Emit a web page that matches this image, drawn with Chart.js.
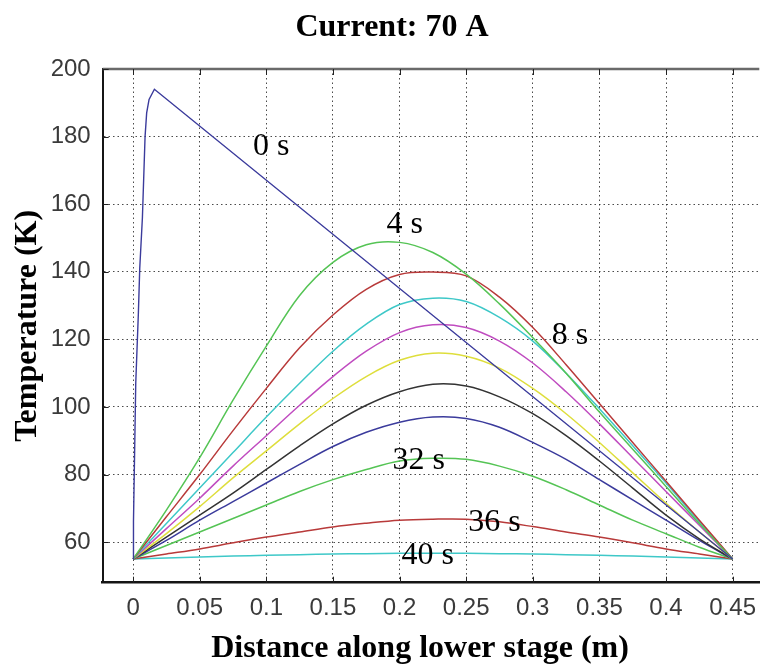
<!DOCTYPE html>
<html>
<head>
<meta charset="utf-8">
<script src="https://cdn.jsdelivr.net/npm/chart.js@4.4.1/dist/chart.umd.min.js"></script>
<style>
  html, body { margin: 0; padding: 0; background: #fff; }
  #wrap { width: 767px; height: 668px; }
</style>
</head>
<body>
<div id="wrap"><canvas id="tempChart" width="767" height="668"></canvas></div>
<script>
// distance along the lower stage (m), shared by the 4 s .. 40 s profiles
const distance = [0, 0.025, 0.05, 0.075, 0.1, 0.125, 0.15, 0.175, 0.2, 0.225, 0.25, 0.275, 0.3, 0.325, 0.35, 0.375, 0.4, 0.425, 0.45];

const t4s  = [55, 69.5, 85, 102, 118, 133, 142.8, 148, 148.7, 145.7, 139.3, 130.5, 120.5, 110, 98.5, 87.5, 76.5, 65.5, 55];
const t8s  = [55, 67.5, 80, 93, 105.5, 117.5, 127.2, 134.8, 139.2, 139.9, 138.8, 132.5, 123.5, 112.5, 101, 89.5, 78, 66.5, 55];
const t12s = [55, 65.5, 76, 86.5, 97, 107, 116.5, 124.5, 130.3, 132.2, 131.2, 126.5, 119.5, 110, 99.5, 88.5, 77.5, 66, 55];
const t16s = [55, 64, 73, 82.5, 91.5, 100.5, 109, 116.5, 122, 124.3, 123.5, 119.5, 113, 104.5, 95, 85, 75, 65, 55];
const t20s = [55, 62.5, 70.5, 79, 87, 95, 102.5, 109, 113.8, 115.9, 115, 111.5, 105.5, 98, 89.5, 80.5, 71.5, 63, 55];
const t24s = [55, 61.5, 68, 74.5, 81.5, 88.5, 95, 100.5, 104.5, 106.7, 106.2, 103, 98, 91.5, 84, 76, 68, 61, 55];
const t28s = [55, 60.5, 66.5, 72, 77.5, 83, 88.3, 92.5, 95.5, 97, 96.6, 94, 89.5, 84.5, 78.5, 72.5, 66.5, 60.5, 55];
const t32s = [55, 59, 63, 67, 71, 75, 78.5, 81.5, 84, 84.8, 84.5, 82.5, 79.5, 75.5, 71, 66.5, 62.5, 58.5, 55];
const t36s = [55, 56.5, 58, 59.8, 61.5, 63, 64.5, 65.6, 66.5, 66.8, 66.8, 66, 64.6, 63, 61.5, 59.8, 58, 56.5, 55];
const t40s = [55, 55.3, 55.6, 55.9, 56.1, 56.3, 56.5, 56.6, 56.7, 56.7, 56.7, 56.6, 56.5, 56.3, 56.1, 55.9, 55.6, 55.3, 55];

// initial profile (0 s) has its own sampling: steep rise, then straight fall
const zeroDistance = [0, 0.0003, 0.0013, 0.002, 0.004, 0.005, 0.007, 0.009, 0.0102, 0.012, 0.016, 0.45];
const t0s = [55, 66, 90, 107, 128, 141, 156, 180, 187, 191, 194, 55];

const xTicks = [0, 0.05, 0.1, 0.15, 0.2, 0.25, 0.3, 0.35, 0.4, 0.45];
const yTicks = [60, 80, 100, 120, 140, 160, 180, 200];

// curve labels, placed in data coordinates
const timeLabels = ['0 s', '4 s', '8 s', '32 s', '36 s', '40 s'];
const timeLabelX = [0.1036, 0.2038, 0.328, 0.2144, 0.2713, 0.2212];
const timeLabelY = [177.1, 154.1, 121.2, 84.2, 65.8, 56.1];

// old matlab colour order b g r c m y k, as it looks after jpeg blur
const lineColors = ['#3b3b9c', '#55c455', '#b83a3a', '#3ec8c8', '#c04cc0', '#dede3c', '#333333', '#3b3b9c', '#55c455', '#b83a3a', '#3ec8c8'];

const toPoints = (xs, ys) => xs.map((x, i) => ({ x: x, y: ys[i] }));

const profiles = [t4s, t8s, t12s, t16s, t20s, t24s, t28s, t32s, t36s, t40s];
const names = ['4 s', '8 s', '12 s', '16 s', '20 s', '24 s', '28 s', '32 s', '36 s', '40 s'];

const datasets = [{
    label: '0 s',
    data: toPoints(zeroDistance, t0s),
    borderColor: lineColors[0],
    borderWidth: 1.4,
    pointRadius: 0,
    tension: 0
}];
profiles.forEach((p, i) => {
    datasets.push({
        label: names[i],
        data: toPoints(distance, p),
        borderColor: lineColors[i + 1],
        borderWidth: 1.5,
        pointRadius: 0,
        tension: 0.35
    });
});

const axesFrame = {
    id: 'axesFrame',
    afterDraw(chart) {
        const { ctx, chartArea: a, scales: { x, y } } = chart;
        ctx.save();

        // top edge of the box
        ctx.strokeStyle = '#6a6a6a';
        ctx.lineWidth = 2.5;
        ctx.beginPath();
        ctx.moveTo(a.left, a.top);
        ctx.lineTo(a.right, a.top);
        ctx.stroke();

        // tick marks pointing inwards
        ctx.strokeStyle = '#222';
        ctx.lineWidth = 1;
        ctx.beginPath();
        xTicks.forEach(v => {
            const px = Math.round(x.getPixelForValue(v)) + 0.5;
            ctx.moveTo(px, a.bottom); ctx.lineTo(px, a.bottom - 6);
            ctx.moveTo(px, a.top); ctx.lineTo(px, a.top + 6);
        });
        yTicks.forEach(v => {
            const py = Math.round(y.getPixelForValue(v)) + 0.5;
            ctx.moveTo(a.left, py); ctx.lineTo(a.left + 6, py);
        });
        ctx.stroke();

        ctx.fillStyle = '#000';
        ctx.textAlign = 'center';
        ctx.textBaseline = 'middle';
        ctx.font = '32px "Liberation Serif", "Times New Roman", serif';
        timeLabels.forEach((t, i) => {
            ctx.fillText(t, x.getPixelForValue(timeLabelX[i]), y.getPixelForValue(timeLabelY[i]));
        });

        ctx.font = 'bold 32px "Liberation Serif", "Times New Roman", serif';
        ctx.fillText('Distance along lower stage (m)', 420, 649);
        ctx.restore();
    }
};

new Chart(document.getElementById('tempChart'), {
    type: 'line',
    data: { datasets: datasets },
    options: {
        responsive: false,
        animation: false,
        devicePixelRatio: 1,
        layout: { padding: { left: 17, right: 0, top: 0, bottom: 0 } },
        plugins: {
            legend: { display: false },
            tooltip: { enabled: false },
            title: {
                display: true,
                text: 'Current: 70 A',
                color: '#000',
                font: { family: '"Liberation Serif", "Times New Roman", serif', size: 32, weight: 'bold', lineHeight: 1.2 },
                padding: { top: 8.8, bottom: 21.8 }
            }
        },
        scales: {
            x: {
                type: 'linear',
                min: -0.0228,
                max: 0.47,
                afterBuildTicks: s => { s.ticks = xTicks.map(v => ({ value: v })); },
                afterFit: s => { s.height = 85.3; },
                ticks: {
                    autoSkip: false,
                    maxRotation: 0,
                    padding: 11,
                    color: '#3a3a3a',
                    font: { family: '"Liberation Sans", Arial, sans-serif', size: 24 },
                    callback: v => String(v)
                },
                grid: { color: 'rgba(30,30,30,0.8)', lineWidth: 1, drawTicks: false },
                border: { display: true, color: '#151515', width: 2.5, dash: [1.5, 3] }
            },
            y: {
                min: 48,
                max: 200,
                afterBuildTicks: s => { s.ticks = yTicks.map(v => ({ value: v })); },
                afterFit: s => { s.width = 85.7; },
                ticks: {
                    padding: 12,
                    color: '#3a3a3a',
                    font: { family: '"Liberation Sans", Arial, sans-serif', size: 24 },
                    callback: v => String(v)
                },
                grid: { color: 'rgba(30,30,30,0.8)', lineWidth: 1, drawTicks: false },
                border: { display: true, color: '#151515', width: 2, dash: [1.5, 3] },
                title: {
                    display: true,
                    text: 'Temperature (K)',
                    color: '#000',
                    font: { family: '"Liberation Serif", "Times New Roman", serif', size: 32, weight: 'bold', lineHeight: 0.66 },
                    padding: { top: 0, bottom: 0 }
                }
            }
        }
    },
    plugins: [axesFrame]
});
</script>
</body>
</html>
